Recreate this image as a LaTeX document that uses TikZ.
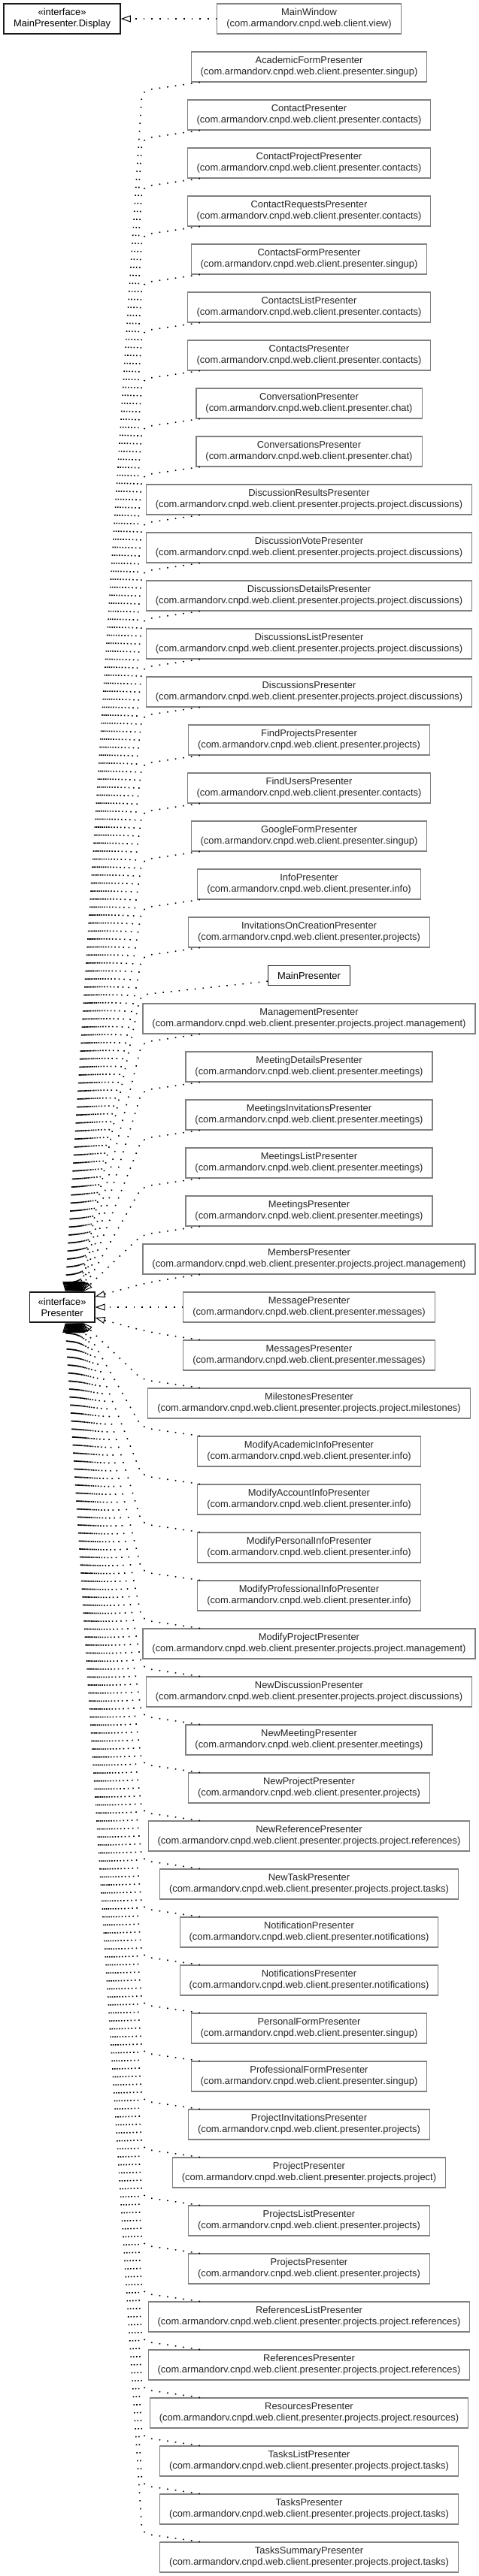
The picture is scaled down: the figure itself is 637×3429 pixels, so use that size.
\documentclass[tikz,border=0pt]{standalone}
\usepackage{fontspec}
\setmainfont{Liberation Sans}
\usetikzlibrary{arrows.meta,calc}
\tikzset{
  box/.style={fill=white, inner xsep=12.5pt, inner ysep=0pt, minimum height=40pt, align=center,
    font=\fontsize{12.9}{15}\selectfont},
  cls/.style={box, draw=black!50, line width=1.1pt, text=black!85},
  own/.style={box, draw=black!90, line width=1.4pt, text=black},
  edge/.style={line width=1.6pt, dash pattern=on 1.6pt off 9.067pt,
    -{Triangle[open, length=13pt, width=9pt, line width=1pt]}},
}
\begin{document}
\begin{tikzpicture}[x=1pt, y=-1pt]
\useasboundingbox (0,0) rectangle (637,3429);
\fill[white] (0,0) rectangle (637,3429);

% header pair
\node[own, minimum width=155pt] (disp) at (82.6,25) {«interface»\\MainPresenter.Display};
\node[cls] (mw) at (411,25) {MainWindow\\(com.armandorv.cnpd.web.client.view)};
\draw[edge] (mw.west) -- (disp.east);

% central interface
\node[own, minimum width=86.7pt, inner xsep=0pt] (P) at (82.6,1740) {«interface»\\Presenter};

% classes
\foreach \i/\n/\p in {
 1/AcademicFormPresenter/singup,
 2/ContactPresenter/contacts,
 3/ContactProjectPresenter/contacts,
 4/ContactRequestsPresenter/contacts,
 5/ContactsFormPresenter/singup,
 6/ContactsListPresenter/contacts,
 7/ContactsPresenter/contacts,
 8/ConversationPresenter/chat,
 9/ConversationsPresenter/chat,
 10/DiscussionResultsPresenter/projects.project.discussions,
 11/DiscussionVotePresenter/projects.project.discussions,
 12/DiscussionsDetailsPresenter/projects.project.discussions,
 13/DiscussionsListPresenter/projects.project.discussions,
 14/DiscussionsPresenter/projects.project.discussions,
 15/FindProjectsPresenter/projects,
 16/FindUsersPresenter/contacts,
 17/GoogleFormPresenter/singup,
 18/InfoPresenter/info,
 19/InvitationsOnCreationPresenter/projects,
 21/ManagementPresenter/projects.project.management,
 22/MeetingDetailsPresenter/meetings,
 23/MeetingsInvitationsPresenter/meetings,
 24/MeetingsListPresenter/meetings,
 25/MeetingsPresenter/meetings,
 26/MembersPresenter/projects.project.management,
 27/MessagePresenter/messages,
 28/MessagesPresenter/messages,
 29/MilestonesPresenter/projects.project.milestones,
 30/ModifyAcademicInfoPresenter/info,
 31/ModifyAccountInfoPresenter/info,
 32/ModifyPersonalInfoPresenter/info,
 33/ModifyProfessionalInfoPresenter/info,
 34/ModifyProjectPresenter/projects.project.management,
 35/NewDiscussionPresenter/projects.project.discussions,
 36/NewMeetingPresenter/meetings,
 37/NewProjectPresenter/projects,
 38/NewReferencePresenter/projects.project.references,
 39/NewTaskPresenter/projects.project.tasks,
 40/NotificationPresenter/notifications,
 41/NotificationsPresenter/notifications,
 42/PersonalFormPresenter/singup,
 43/ProfessionalFormPresenter/singup,
 44/ProjectInvitationsPresenter/projects,
 45/ProjectPresenter/projects.project,
 46/ProjectsListPresenter/projects,
 47/ProjectsPresenter/projects,
 48/ReferencesListPresenter/projects.project.references,
 49/ReferencesPresenter/projects.project.references,
 50/ResourcesPresenter/projects.project.resources,
 51/TasksListPresenter/projects.project.tasks,
 52/TasksPresenter/projects.project.tasks,
 53/TasksSummaryPresenter/projects.project.tasks}{
  \pgfmathsetmacro\cy{\i<20 ? 89+(\i-1)*64 : 1356+(\i-21)*64}
  \node[cls] (b\i) at (411,\cy) {\n\\(com.armandorv.cnpd.web.client.presenter.\p)};
}
\node[own, minimum height=26pt] (b20) at (411,1298.5) {MainPresenter};

\coordinate (sx) at (266,0);

% edges above the interface
\begin{scope}[rounded corners=10pt]
\foreach \i in {1,...,19,21,22,23,24,25}{
  \pgfmathsetmacro\tx{87+(\i-1)*23/24}
  \draw[edge] (b\i.south -| sx) -- ($(b\i.south -| sx)+(-77,11)$) -- (\tx,0 |- P.north);
}
\pgfmathsetmacro\tx{87+19*23/24}
\draw[edge] ($(b20.south west)+(0,-6)$) -- ($(b20.south west)+(-169,12)$) -- (\tx,0 |- P.north);

% edges below the interface
\foreach \i in {29,...,53}{
  \pgfmathsetmacro\tx{87+(53-\i)*23/24}
  \draw[edge] (b\i.north -| sx) -- ($(b\i.north -| sx)+(-77,-11)$) -- (\tx,0 |- P.south);
}
\end{scope}

% edges to the right side
\draw[edge] (b26.south -| sx) .. controls (200,1706) .. ($(P.east)+(0,-14)$);
\draw[edge] (b27.west) -- (P.east);
\draw[edge] (b28.north -| sx) .. controls (200,1774) .. ($(P.east)+(0,14)$);
\end{tikzpicture}
\end{document}
